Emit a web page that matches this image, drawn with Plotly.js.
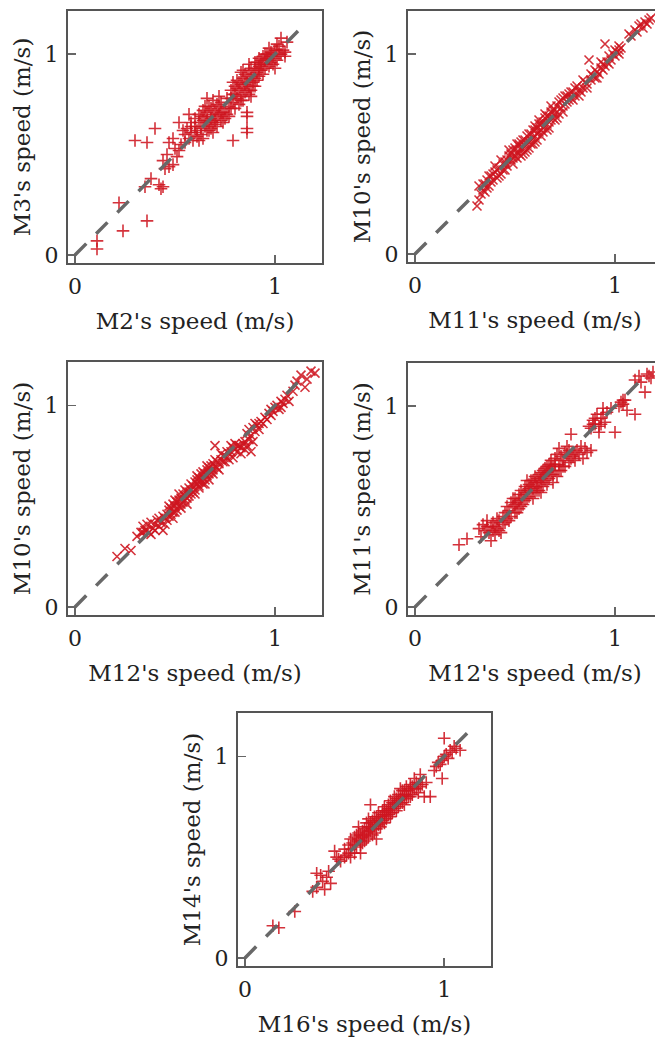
<!DOCTYPE html>
<html><head><meta charset="utf-8">
<script src="https://cdn.plot.ly/plotly-3.0.1.min.js"></script>
<style>html,body{margin:0;padding:0;overflow:hidden;background:#fff}#chart{width:680px;height:1040px}</style>
</head><body><div id="chart"></div><script>
const xLabels = ["M2's speed (m/s)", "M11's speed (m/s)", "M12's speed (m/s)", "M12's speed (m/s)", "M16's speed (m/s)"];
const yLabels = ["M3's speed (m/s)", "M10's speed (m/s)", "M10's speed (m/s)", "M11's speed (m/s)", "M14's speed (m/s)"];
const tickValues = [0, 1];
const tickText = ["0", "1"];
const refLine = [0, 1.15];

// [x, y] pairs
const m2VsM3 = [
[0.11,0.07],[0.11,0.03],[0.24,0.12],[0.22,0.26],[0.36,0.17],[0.35,0.34],[0.43,0.33],[0.44,0.34],[0.42,0.35],[0.38,0.38],[0.45,0.43],[0.47,0.44],[0.49,0.45],[0.30,0.57],[0.36,0.56],[0.40,0.63],[0.47,0.56],[0.50,0.53],[0.52,0.52],[0.52,0.66],[0.49,0.58],[0.53,0.55],
[0.55,0.60],[0.56,0.63],[0.57,0.58],[0.58,0.66],[0.58,0.61],[0.59,0.57],[0.60,0.64],[0.60,0.68],[0.61,0.62],[0.61,0.59],[0.62,0.66],[0.62,0.70],[0.63,0.63],[0.63,0.60],[0.64,0.67],[0.64,0.72],[0.65,0.64],[0.65,0.69],[0.66,0.62],[0.66,0.71],[0.67,0.66],[0.67,0.74],[0.68,0.68],[0.68,0.63],[0.69,0.70],[0.69,0.66],[0.70,0.72],[0.70,0.67],[0.71,0.69],[0.71,0.64],[0.72,0.74],[0.72,0.70],[0.73,0.67],[0.73,0.76],[0.74,0.71],[0.75,0.73],[0.75,0.68],[0.66,0.78],[0.72,0.79],[0.79,0.57],[0.62,0.57],[0.57,0.70],[0.69,0.61],[0.76,0.70],[0.77,0.74],
[0.78,0.78],[0.78,0.82],[0.79,0.76],[0.80,0.80],[0.80,0.84],[0.81,0.78],[0.81,0.87],[0.82,0.82],[0.82,0.75],[0.83,0.85],[0.83,0.79],[0.84,0.88],[0.84,0.83],[0.85,0.81],[0.85,0.90],[0.86,0.86],[0.86,0.71],[0.86,0.69],[0.86,0.63],[0.86,0.61],[0.87,0.84],[0.87,0.92],[0.88,0.88],[0.88,0.82],[0.89,0.90],[0.89,0.86],[0.90,0.93],[0.90,0.88],[0.91,0.91],[0.91,0.96],[0.92,0.89],[0.92,0.94],[0.93,0.97],[0.93,0.92],[0.94,0.95],[0.94,0.99],[0.95,0.93],[0.95,0.97],[0.96,1.00],[0.96,0.95],[0.97,0.98],[0.98,1.01],[0.98,0.96],[0.99,0.99],[1.00,1.02],[1.00,0.93],[1.01,0.97],[1.02,1.00],[1.02,1.04],[1.03,1.08],[1.04,1.02],[1.05,1.01],[1.06,1.06],[1.05,0.99],[0.84,0.77],[0.88,0.79],[0.90,0.84],[0.80,0.73],[0.83,0.91],[0.79,0.86],[0.97,1.03],[0.99,0.95],[1.01,1.05],[0.92,0.98],[0.87,0.95],
[0.60,0.61],[0.63,0.69],[0.64,0.58],[0.66,0.67],[0.67,0.62],[0.68,0.73],[0.70,0.65],[0.71,0.75],[0.73,0.71],[0.74,0.66],[0.76,0.78],[0.77,0.69],[0.78,0.73],[0.79,0.80],[0.81,0.83],[0.82,0.86],[0.83,0.77],[0.84,0.92],[0.85,0.85],[0.86,0.82],[0.86,0.89],[0.87,0.80],[0.88,0.93],[0.89,0.84],[0.90,0.96],[0.91,0.87],[0.92,0.92],[0.93,0.95],[0.94,0.90],[0.95,1.00],[0.96,0.98],[0.97,0.94],[0.98,0.99],[1.00,0.98],[1.01,1.02],[1.03,1.00],[0.55,0.56],[0.58,0.64],[0.54,0.62],[0.46,0.50],[0.51,0.49],[0.44,0.47],[0.65,0.74],[0.69,0.77]
];
const m11VsM10 = [
[0.31,0.24],[0.32,0.27],[0.32,0.34],[0.33,0.30],[0.34,0.32],[0.35,0.35],[0.35,0.31],[0.36,0.37],[0.37,0.34],[0.37,0.39],[0.38,0.36],[0.39,0.40],[0.39,0.37],[0.40,0.41],[0.41,0.38],[0.42,0.43],[0.43,0.40],[0.44,0.45],[0.45,0.46],[0.46,0.44],[0.47,0.49],[0.48,0.47],[0.48,0.50],[0.49,0.48],[0.49,0.52],[0.50,0.49],[0.50,0.53],[0.51,0.51],[0.51,0.48],[0.52,0.54],[0.52,0.50],[0.53,0.52],[0.53,0.56],[0.54,0.53],[0.54,0.50],[0.55,0.57],[0.55,0.54],[0.56,0.55],[0.56,0.59],[0.57,0.56],[0.57,0.53],[0.58,0.60],[0.58,0.57],[0.59,0.58],[0.59,0.62],[0.60,0.59],[0.60,0.56],[0.61,0.63],[0.61,0.60],[0.62,0.61],[0.62,0.65],[0.63,0.62],[0.63,0.59],[0.64,0.66],[0.64,0.63],[0.65,0.64],[0.65,0.68],[0.66,0.65],[0.66,0.62],[0.67,0.69],[0.67,0.66],[0.68,0.67],[0.68,0.71],[0.69,0.68],[0.70,0.72],[0.70,0.67],[0.71,0.74],[0.72,0.70],[0.72,0.76],[0.73,0.73],[0.74,0.78],[0.75,0.75],[0.75,0.79],[0.76,0.76],[0.77,0.80],[0.78,0.78],[0.79,0.81],[0.80,0.79],[0.82,0.82],[0.83,0.81],[0.84,0.83],[0.85,0.86],[0.86,0.85],[0.87,0.97],[0.88,0.87],[0.89,0.89],[0.90,0.88],[0.91,0.91],[0.92,0.90],[0.93,0.93],[0.94,0.95],[0.95,1.05],[0.96,0.96],[0.97,0.99],[0.98,0.97],[0.99,1.00],[1.00,1.02],[1.01,1.01],[1.02,1.04],[1.03,1.03],[1.07,1.10],[1.08,1.09],[1.10,1.12],[1.11,1.11],[1.12,1.14],[1.14,1.13],[1.15,1.16],[1.17,1.17],[1.16,1.15],[0.42,0.39],[0.44,0.42],[0.46,0.47],[0.52,0.55],[0.55,0.51],[0.58,0.55],[0.60,0.62],[0.63,0.65],[0.66,0.69],[0.69,0.72],[0.74,0.74],[0.77,0.77],[0.81,0.84],[0.90,0.92],[0.95,0.94],[1.02,1.00],
[0.40,0.44],[0.43,0.47],[0.45,0.42],[0.47,0.52],[0.49,0.45],[0.51,0.55],[0.53,0.49],[0.54,0.57],[0.56,0.52],[0.57,0.60],[0.59,0.55],[0.60,0.64],[0.61,0.57],[0.62,0.67],[0.64,0.61],[0.65,0.70],[0.67,0.63],[0.68,0.74],[0.70,0.70],[0.71,0.68],[0.73,0.77],[0.74,0.71],[0.76,0.79],[0.78,0.81],[0.79,0.77],[0.80,0.83],[0.82,0.79],[0.84,0.87],[0.86,0.83],[0.88,0.90],[0.91,0.88],[0.93,0.96],[0.94,0.92],[0.97,0.95],[1.00,0.99],[1.02,1.02],[1.13,1.15],[1.18,1.18],[0.34,0.35],[0.36,0.33],[0.38,0.39],[0.41,0.42]
];
const m12VsM10 = [
[0.21,0.25],[0.25,0.29],[0.28,0.28],[0.31,0.35],[0.33,0.37],[0.34,0.40],[0.35,0.38],[0.36,0.41],[0.37,0.37],[0.38,0.42],[0.39,0.39],[0.40,0.41],[0.41,0.43],[0.42,0.40],[0.43,0.42],[0.44,0.38],[0.45,0.44],[0.46,0.46],[0.47,0.48],[0.47,0.45],[0.48,0.49],[0.49,0.47],[0.49,0.51],[0.50,0.50],[0.51,0.52],[0.51,0.48],[0.52,0.53],[0.52,0.50],[0.53,0.54],[0.54,0.52],[0.54,0.56],[0.55,0.55],[0.55,0.53],[0.56,0.57],[0.57,0.55],[0.57,0.59],[0.58,0.58],[0.58,0.56],[0.59,0.60],[0.60,0.58],[0.60,0.62],[0.61,0.61],[0.61,0.63],[0.62,0.60],[0.62,0.64],[0.63,0.62],[0.63,0.66],[0.64,0.64],[0.65,0.66],[0.65,0.63],[0.66,0.68],[0.67,0.66],[0.67,0.69],[0.68,0.67],[0.69,0.71],[0.69,0.68],[0.70,0.70],[0.70,0.80],[0.71,0.72],[0.72,0.71],[0.73,0.73],[0.74,0.72],[0.75,0.75],[0.76,0.74],[0.77,0.76],[0.78,0.77],[0.79,0.74],[0.80,0.78],[0.81,0.77],[0.82,0.80],[0.83,0.79],[0.84,0.81],[0.85,0.78],[0.86,0.80],[0.88,0.77],[0.89,0.82],[0.86,0.86],[0.87,0.88],[0.88,0.85],[0.89,0.89],[0.90,0.87],[0.91,0.90],[0.92,0.88],[0.93,0.92],[0.94,0.91],[0.96,0.93],[0.97,0.96],[0.98,0.98],[0.99,0.97],[1.00,0.99],[1.01,1.00],[1.02,0.98],[1.03,1.02],[1.04,1.01],[1.05,1.03],[1.07,1.02],[1.09,1.07],[1.10,1.10],[1.11,1.12],[1.13,1.15],[1.15,1.09],[1.16,1.13],[1.18,1.17],[1.20,1.16],[0.44,0.45],[0.46,0.43],[0.48,0.46],[0.50,0.53],[0.53,0.51],[0.56,0.54],[0.59,0.57],[0.62,0.62],[0.64,0.61],[0.66,0.65],[0.68,0.70],[0.71,0.69],[0.73,0.76],[0.75,0.72],[0.78,0.80],[0.80,0.81],
[0.40,0.38],[0.42,0.44],[0.45,0.41],[0.47,0.50],[0.49,0.44],[0.50,0.47],[0.52,0.56],[0.53,0.49],[0.55,0.58],[0.56,0.51],[0.57,0.57],[0.58,0.61],[0.60,0.56],[0.61,0.65],[0.62,0.59],[0.63,0.63],[0.64,0.67],[0.65,0.61],[0.66,0.70],[0.67,0.63],[0.69,0.66],[0.70,0.73],[0.72,0.68],[0.74,0.75],[0.76,0.77],[0.77,0.73],[0.79,0.79],[0.81,0.80],[0.83,0.76],[0.85,0.82],[0.87,0.83],[0.90,0.91],[0.92,0.91],[0.95,0.94],[0.98,0.95],[1.03,0.99],[1.06,1.05],[0.36,0.38],[0.38,0.36],[0.34,0.37]
];
const m12VsM11 = [
[0.22,0.31],[0.26,0.34],[0.32,0.39],[0.33,0.35],[0.34,0.41],[0.35,0.38],[0.36,0.43],[0.37,0.37],[0.38,0.40],[0.38,0.33],[0.39,0.42],[0.40,0.36],[0.41,0.39],[0.42,0.43],[0.43,0.37],[0.44,0.41],[0.45,0.47],[0.46,0.44],[0.46,0.50],[0.47,0.48],[0.48,0.52],[0.48,0.45],[0.49,0.50],[0.50,0.54],[0.50,0.47],[0.51,0.52],[0.52,0.56],[0.52,0.49],[0.53,0.54],[0.53,0.58],[0.54,0.51],[0.54,0.56],[0.55,0.60],[0.55,0.53],[0.56,0.58],[0.57,0.55],[0.57,0.61],[0.58,0.57],[0.58,0.63],[0.59,0.59],[0.59,0.54],[0.60,0.62],[0.60,0.57],[0.61,0.64],[0.61,0.60],[0.62,0.66],[0.62,0.58],[0.63,0.62],[0.63,0.67],[0.64,0.60],[0.64,0.65],[0.65,0.69],[0.65,0.63],[0.66,0.67],[0.67,0.64],[0.67,0.71],[0.68,0.66],[0.69,0.70],[0.69,0.62],[0.70,0.68],[0.70,0.74],[0.71,0.65],[0.72,0.71],[0.72,0.79],[0.73,0.68],[0.74,0.73],[0.75,0.70],[0.76,0.76],[0.77,0.72],[0.78,0.86],[0.79,0.75],[0.80,0.73],[0.81,0.78],[0.82,0.76],[0.84,0.74],[0.86,0.77],[0.88,0.89],[0.89,0.93],[0.90,0.91],[0.91,0.96],[0.92,0.90],[0.93,0.94],[0.94,0.99],[0.95,0.92],[0.96,0.97],[0.92,0.87],[1.00,0.87],[1.02,1.00],[1.03,1.02],[1.04,1.01],[1.05,1.03],[1.06,0.98],[1.10,0.96],[1.10,1.13],[1.12,1.15],[1.13,1.12],[1.15,1.07],[1.16,1.16],[1.18,1.14],[1.19,1.17],[0.47,0.43],[0.51,0.47],[0.56,0.63],[0.60,0.65],[0.63,0.57],[0.66,0.70],[0.68,0.73],[0.71,0.76],[0.73,0.75],[0.76,0.80],[0.83,0.80],[0.87,0.90],[0.98,0.99],
[0.40,0.40],[0.42,0.38],[0.44,0.45],[0.45,0.42],[0.49,0.54],[0.50,0.51],[0.52,0.53],[0.53,0.50],[0.55,0.57],[0.56,0.54],[0.57,0.59],[0.58,0.60],[0.59,0.63],[0.61,0.58],[0.62,0.62],[0.63,0.64],[0.64,0.68],[0.65,0.66],[0.66,0.61],[0.67,0.68],[0.68,0.70],[0.69,0.66],[0.70,0.71],[0.72,0.68],[0.74,0.70],[0.75,0.77],[0.77,0.78],[0.78,0.74],[0.80,0.77],[0.85,0.79],[0.88,0.78],[0.89,0.91],[0.90,0.94],[0.93,0.91],[0.94,0.96],[1.04,1.03],[1.17,1.15],[0.36,0.40],[0.39,0.38],[0.41,0.44]
];
const m16VsM14 = [
[0.14,0.16],[0.17,0.15],[0.25,0.23],[0.34,0.33],[0.36,0.35],[0.36,0.42],[0.39,0.38],[0.40,0.34],[0.41,0.40],[0.43,0.37],[0.45,0.53],[0.47,0.49],[0.48,0.48],[0.50,0.54],[0.51,0.51],[0.52,0.56],[0.53,0.54],[0.53,0.59],[0.54,0.57],[0.55,0.52],[0.55,0.60],[0.56,0.58],[0.56,0.55],[0.57,0.62],[0.57,0.59],[0.58,0.61],[0.58,0.56],[0.59,0.63],[0.59,0.60],[0.60,0.58],[0.60,0.64],[0.61,0.62],[0.61,0.67],[0.62,0.60],[0.62,0.65],[0.63,0.76],[0.63,0.63],[0.64,0.68],[0.64,0.61],[0.65,0.66],[0.65,0.70],[0.66,0.64],[0.66,0.68],[0.67,0.72],[0.67,0.66],[0.68,0.70],[0.68,0.65],[0.69,0.73],[0.69,0.68],[0.70,0.71],[0.70,0.75],[0.71,0.69],[0.71,0.73],[0.72,0.76],[0.72,0.71],[0.73,0.74],[0.73,0.78],[0.74,0.72],[0.74,0.77],[0.75,0.80],[0.75,0.74],[0.76,0.77],[0.77,0.81],[0.77,0.75],[0.78,0.79],[0.79,0.83],[0.79,0.77],[0.80,0.81],[0.81,0.85],[0.81,0.79],[0.82,0.83],[0.83,0.86],[0.84,0.81],[0.85,0.84],[0.86,0.87],[0.87,0.82],[0.88,0.85],[0.90,0.80],[0.93,0.80],[0.95,0.93],[0.96,0.95],[0.98,0.96],[0.99,0.89],[0.99,0.98],[1.00,1.09],[1.01,1.01],[1.02,0.99],[1.03,1.03],[1.04,1.02],[1.06,1.04],[1.08,1.03],[0.58,0.52],[0.62,0.69],[0.66,0.59],[0.70,0.67],[0.73,0.70],[0.76,0.73],[0.78,0.84],[0.80,0.76],[0.83,0.80],[0.85,0.89],[0.88,0.91],[0.91,0.87],[0.63,0.67],[0.57,0.65],[0.53,0.50],
[0.55,0.56],[0.56,0.61],[0.58,0.58],[0.59,0.57],[0.60,0.61],[0.61,0.59],[0.62,0.63],[0.63,0.65],[0.64,0.64],[0.65,0.62],[0.66,0.70],[0.67,0.69],[0.68,0.67],[0.69,0.71],[0.70,0.73],[0.71,0.71],[0.72,0.74],[0.73,0.72],[0.74,0.75],[0.75,0.77],[0.76,0.79],[0.77,0.78],[0.78,0.77],[0.79,0.80],[0.80,0.83],[0.81,0.81],[0.82,0.80],[0.83,0.84],[0.84,0.85],[0.86,0.84],[0.87,0.86],[0.89,0.86],[0.97,0.97],[1.00,1.00],[1.05,1.05],[0.50,0.50],[0.52,0.52],[0.38,0.41],[0.42,0.43],[0.46,0.50]
];

const panels = [m2VsM3, m11VsM10, m12VsM10, m12VsM11, m16VsM14];
const symbols = ['cross-thin', 'x-thin', 'x-thin', 'cross-thin', 'cross-thin'];

const W = 680, H = 1040;
const boxes = [[68,322,11,263],[408,662,11,262],[68,322,362,615],[408,662,363,615],[238,491,713,966]];
const FONT = 'DejaVu Serif, serif';
const RED = 'rgba(206,22,32,0.88)';
const data = [];
const layout = {
  width: W, height: H, margin: {l:0, r:0, t:0, b:0},
  paper_bgcolor: '#fff', plot_bgcolor: '#fff', showlegend: false
};
panels.forEach((pts, i) => {
  const s = i === 0 ? '' : String(i + 1);
  data.push({
    type: 'scatter', mode: 'markers', xaxis: 'x' + s, yaxis: 'y' + s,
    x: pts.map(p => p[0]), y: pts.map(p => p[1]),
    marker: {symbol: symbols[i], size: 9, color: RED, line: {width: 1.6, color: RED}},
    hoverinfo: 'skip'
  });
  data.push({
    type: 'scatter', mode: 'lines', xaxis: 'x' + s, yaxis: 'y' + s,
    x: refLine, y: refLine,
    line: {color: '#686868', width: 3.5, dash: '16px,14px'}, hoverinfo: 'skip'
  });
  const b = boxes[i];
  const common = {
    tickvals: tickValues, ticktext: tickText, ticks: 'inside', ticklen: 8, tickwidth: 1.5, tickcolor: '#666',
    showline: true, mirror: true, linecolor: '#555', linewidth: 2, showgrid: false, zeroline: false,
    tickfont: {family: FONT, size: 22, color: '#222'}, fixedrange: true
  };
  layout['xaxis' + s] = Object.assign({}, common, {
    domain: [b[0] / W, b[1] / W], anchor: 'y' + s, range: [-0.035, 1.235], ticklabelstandoff: 3,
    title: {text: xLabels[i], font: {family: FONT, size: 23, color: '#222'}, standoff: 14}
  });
  layout['yaxis' + s] = Object.assign({}, common, {
    domain: [1 - b[3] / H, 1 - b[2] / H], anchor: 'x' + s, range: [-0.04, 1.215], ticklabelstandoff: 3,
    title: {text: yLabels[i], font: {family: FONT, size: 23, color: '#222'}, standoff: 8}
  });
});
Plotly.newPlot('chart', data, layout, {staticPlot: true, displayModeBar: false});
</script></body></html>
